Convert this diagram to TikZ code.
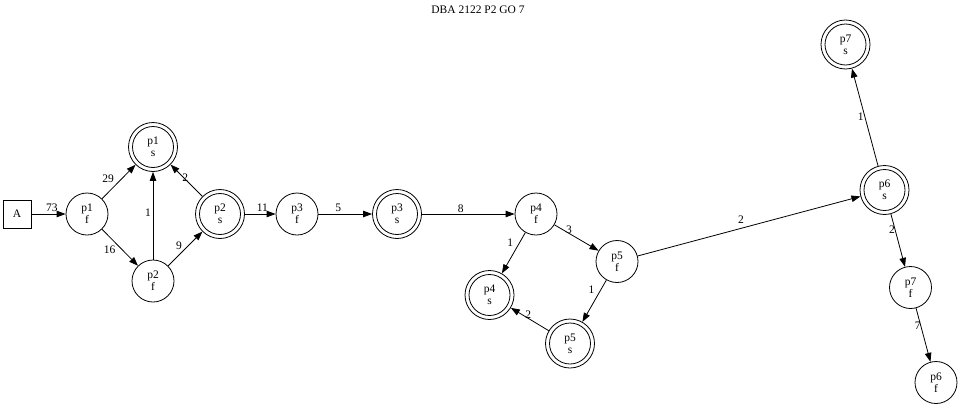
\documentclass[tikz,border=0pt]{standalone}
\usepackage{fontspec}
\setmainfont{Liberation Serif}
\usetikzlibrary{arrows.meta}
\begin{document}
\begin{tikzpicture}[x=1pt,y=-1pt,
  every node/.style={font=\fontsize{11.5}{12}\selectfont},
  st/.style={circle,draw,line width=0.8pt,minimum size=42pt,inner sep=0pt,align=center},
  acc/.style={circle,draw,line width=0.8pt,minimum size=49pt,inner sep=0pt,align=center},
  boxst/.style={rectangle,draw,line width=0.8pt,minimum size=28pt,inner sep=0pt},
  edge/.style={line width=0.8pt,-{Triangle[length=9pt,width=6.5pt]}},
  lbl/.style={inner sep=0pt}]
\useasboundingbox (0,0) rectangle (960,407);
\node[lbl] (title) at (478,10) {DBA 2122 P2 GO 7};
\node[boxst] (A) at (17,214) {A};
\node[st] (p1f) at (87,214) {p1\\f};
\node[acc] (p1s) at (153,147) {p1\\s};
\node[st] (p2f) at (153,281) {p2\\f};
\node[acc] (p2s) at (220,214) {p2\\s};
\node[st] (p3f) at (297,214) {p3\\f};
\node[acc] (p3s) at (397,214) {p3\\s};
\node[st] (p4f) at (536,214) {p4\\f};
\node[acc] (p4s) at (489.5,295) {p4\\s};
\node[st] (p5f) at (617,261.5) {p5\\f};
\node[acc] (p5s) at (570,343.5) {p5\\s};
\node[acc] (p6s) at (884.5,190) {p6\\s};
\node[acc] (p7s) at (845.5,44.5) {p7\\s};
\node[st] (p7f) at (910.5,287.5) {p7\\f};
\node[st] (p6f) at (936,382.5) {p6\\f};
\foreach \n in {p1s,p2s,p3s,p4s,p5s,p6s,p7s}
  \draw[line width=0.8pt] (\n) circle[radius=20.5pt];
\draw[edge] (A) -- node[lbl,pos=0.6,yshift=6pt] (l1) {73} (p1f);
\draw[edge] (p1f) -- node[lbl,pos=0.6,xshift=-14pt] (l2) {29} (p1s);
\draw[edge] (p1f) -- node[lbl,pos=0.57,xshift=-13pt] (l3) {16} (p2f);
\draw[edge] (p2f) -- node[lbl,pos=0.53,xshift=-5pt] (l4) {1} (p1s);
\draw[edge] (p2s) -- node[lbl,pos=0.54,yshift=2pt] (l5) {2} (p1s);
\draw[edge] (p2f) -- node[lbl,pos=0.45,xshift=-4.5pt,yshift=5pt] (l6) {9} (p2s);
\draw[edge] (p2s) -- node[lbl,pos=0.57,yshift=6pt] (l7) {11} (p3f);
\draw[edge] (p3f) -- node[lbl,pos=0.37,yshift=6pt] (l8) {5} (p3s);
\draw[edge] (p3s) -- node[lbl,pos=0.42,yshift=5pt] (l9) {8} (p4f);
\draw[edge] (p4f) -- node[lbl,pos=0.26,xshift=-9pt] (l10) {1} (p4s);
\draw[edge] (p4f) -- node[lbl,pos=0.33,yshift=4pt] (l11) {3} (p5f);
\draw[edge] (p5f) -- node[lbl,pos=0.24,xshift=-9pt] (l12) {1} (p5s);
\draw[edge] (p5s) -- node[lbl,pos=0.54,yshift=4pt] (l13) {2} (p4s);
\draw[edge] (p5f) -- node[lbl,pos=0.464,yshift=9pt] (l14) {2} (p6s);
\draw[edge] (p6s) -- node[lbl,pos=0.51,xshift=-4pt] (l15) {1} (p7s);
\draw[edge] (p6s) -- node[lbl,pos=0.295,xshift=-3pt] (l16) {2} (p7f);
\draw[edge] (p7f) -- node[lbl,pos=0.32,xshift=-3pt] (l17) {7} (p6f);
\end{tikzpicture}
\end{document}
